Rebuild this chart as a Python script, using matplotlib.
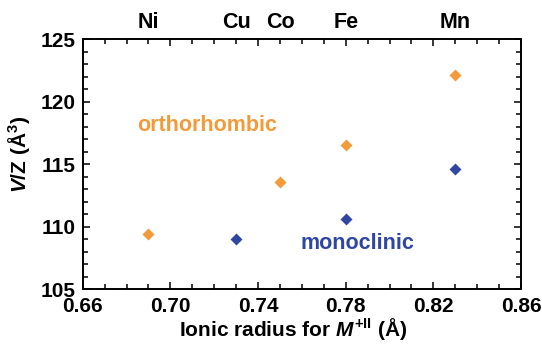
import matplotlib
matplotlib.use('Agg')
import matplotlib.pyplot as plt
from matplotlib.ticker import MultipleLocator

plt.rcParams['font.family'] = 'Liberation Sans'
plt.rcParams['font.weight'] = 'bold'
plt.rcParams['mathtext.fontset'] = 'custom'
plt.rcParams['mathtext.rm'] = 'Liberation Sans:bold'
plt.rcParams['mathtext.it'] = 'Liberation Sans:bold:italic'
plt.rcParams['mathtext.bf'] = 'Liberation Sans:bold'

# Unit-cell volume per formula unit vs. ionic radius of M(II)
ortho_radius = [0.69, 0.75, 0.78, 0.83]
ortho_vz = [109.45, 113.6, 116.5, 122.1]
mono_radius = [0.73, 0.78, 0.83]
mono_vz = [109.05, 110.65, 114.65]

elements = ['Ni', 'Cu', 'Co', 'Fe', 'Mn']
element_radius = [0.69, 0.73, 0.75, 0.78, 0.83]

orange = '#F39A3A'
blue = '#2F47A3'

fig = plt.figure(figsize=(5.42, 3.44), dpi=100)
ax = fig.add_axes([0.1526, 0.159, 0.8087, 0.7276])

ax.plot(ortho_radius, ortho_vz, 'D', color=orange, ms=6.2, mec='none')
ax.plot(mono_radius, mono_vz, 'D', color=blue, ms=6.2, mec='none')

ax.text(0.6847, 118.1, 'orthorhombic', color=orange, fontsize=15.5,
        fontweight='bold', ha='left', va='center')
ax.text(0.7592, 108.65, 'monoclinic', color=blue, fontsize=15.5,
        fontweight='bold', ha='left', va='center')

# element names along the top
for name, r in zip(elements, element_radius):
    ax.text(r, 1.066, name, transform=ax.get_xaxis_transform(),
            ha='center', va='center', fontsize=15.5, fontweight='bold')

ax.set_xlim(0.66, 0.86)
ax.set_ylim(105, 125)
ax.xaxis.set_major_locator(MultipleLocator(0.04))
ax.xaxis.set_minor_locator(MultipleLocator(0.01))
ax.yaxis.set_major_locator(MultipleLocator(5))
ax.yaxis.set_minor_locator(MultipleLocator(1))
ax.set_xticks([0.66, 0.70, 0.74, 0.78, 0.82, 0.86])
ax.set_xticklabels(['0.66', '0.70', '0.74', '0.78', '0.82', '0.86'])

ax.tick_params(which='both', direction='in', top=True, right=True,
               labelsize=15, width=1.1)
ax.tick_params(which='major', length=5)
ax.tick_params(which='minor', length=3.5)
ax.tick_params(axis='x', pad=5.5)
ax.tick_params(axis='y', pad=5)
for s in ax.spines.values():
    s.set_linewidth(1.4)

ax.set_xlabel(r'Ionic radius for $M^{\mathrm{+II}}$ (Å)', fontsize=15,
              fontweight='bold')
ax.set_ylabel(r'$V$/Z (Å$^3$)', fontsize=15, fontweight='bold')
ax.xaxis.set_label_coords(0.48, -0.106)
ax.yaxis.set_label_coords(-0.116, 0.537)

fig.savefig('out.png', dpi=100)
